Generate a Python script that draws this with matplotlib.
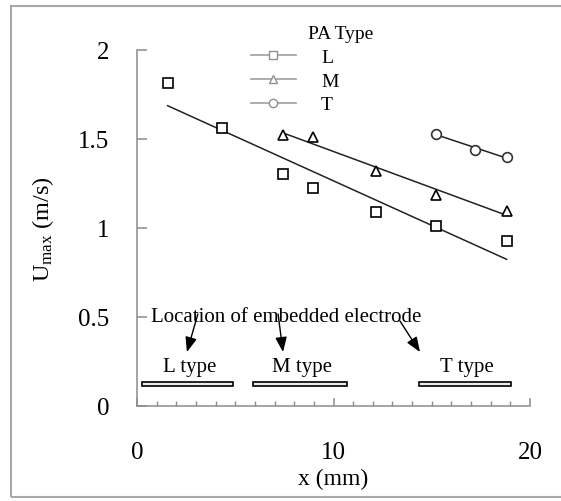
import numpy as np
import matplotlib.pyplot as plt
from matplotlib.lines import Line2D
from matplotlib.patches import Rectangle

plt.rcParams['font.family'] = ['Liberation Serif', 'DejaVu Serif']
plt.rcParams['mathtext.fontset'] = 'custom'
plt.rcParams['mathtext.rm'] = 'Liberation Serif'
plt.rcParams['mathtext.it'] = 'Liberation Serif'

# measured maximum velocity per PA type
x_L = [1.56, 4.31, 7.43, 8.97, 12.15, 15.24, 18.81]
u_L = [1.815, 1.560, 1.303, 1.225, 1.088, 1.010, 0.929]
x_M = [7.43, 8.97, 12.15, 15.24, 18.81]
u_M = [1.522, 1.513, 1.319, 1.185, 1.097]
x_T = [15.24, 17.19, 18.81]
u_T = [1.530, 1.438, 1.400]

# electrode spans along x (mm)
electrode_names = ['L type', 'M type', 'T type']
electrode_start = [0.25, 5.9, 14.35]
electrode_end = [4.9, 10.7, 19.05]

grey = '#8c8c8c'

fig = plt.figure(figsize=(5.61, 5.02), dpi=100)
ax = fig.add_axes([137 / 561, 1 - 407 / 502, 393 / 561, 356 / 502])

series = [(x_L, u_L, 's', 'k'), (x_M, u_M, '^', 'k'), (x_T, u_T, 'o', '#333333')]
for xs, us, mk, col in series:
    ax.plot(xs, us, linestyle='none', marker=mk, ms=7, mfc='white',
            mec=col, mew=1.2, zorder=3)
    k, b = np.polyfit(xs, us, 1)
    xx = np.array([min(xs), max(xs)])
    ax.plot(xx, k * xx + b, color='#222222', lw=1.1, zorder=2)

# electrode bars with labels
for name, s, e in zip(electrode_names, electrode_start, electrode_end):
    ax.add_patch(Rectangle((s, 0.110), e - s, 0.027, facecolor='#ececec',
                           edgecolor='k', lw=1.2, zorder=2))
    ax.text((s + e) / 2 + 0.1, 0.22, name, ha='center', va='center', fontsize=15)

ax.text(0.7, 0.505, 'Location of embedded electrode', ha='left', va='center',
        fontsize=15)
arrow_kw = dict(arrowstyle='-|>,head_length=0.9,head_width=0.35', color='k',
                lw=1.0, shrinkA=0, shrinkB=0)
ax.annotate('', xy=(2.54, 0.303), xytext=(3.1, 0.517), arrowprops=arrow_kw)
ax.annotate('', xy=(7.43, 0.303), xytext=(7.18, 0.517), arrowprops=arrow_kw)
ax.annotate('', xy=(14.4, 0.303), xytext=(13.38, 0.478), arrowprops=arrow_kw)

ax.set_xlim(0, 20)
ax.set_ylim(0, 2)
ax.set_xticks([0, 10, 20])
ax.set_xticks(np.arange(0, 21, 1), minor=True)
ax.set_yticks([0, 0.5, 1, 1.5, 2])
ax.set_yticklabels(['0', '0.5', '1', '1.5', '2'])

for side in ['top', 'right']:
    ax.spines[side].set_visible(False)
for side in ['left', 'bottom']:
    ax.spines[side].set_color(grey)
    ax.spines[side].set_linewidth(1.1)

ax.tick_params(axis='y', direction='in', length=7, width=1.1, color=grey,
               pad=20, labelsize=18)
ax.tick_params(axis='x', which='major', direction='in', length=6, width=1.1,
               color=grey, pad=25, labelsize=18)
ax.tick_params(axis='x', which='minor', direction='in', length=3.5, width=1.0,
               color=grey)

ax.set_xlabel('x (mm)', fontsize=17, labelpad=4)
ax.set_ylabel(r'U$_{\mathrm{max}}$ (m/s)', fontsize=17.5, labelpad=16)

handles = [Line2D([], [], color='#a0a0a0', lw=1.2, marker=m, ms=6, mfc='white',
                  mec='#909090', mew=1.0) for m in ['s', '^', 'o']]
ax.legend(handles, ['L', 'M', 'T'], loc='upper left',
          bbox_to_anchor=(0.29, 1.005), frameon=False, fontsize=14,
          handlelength=2.3, handletextpad=1.3, labelspacing=0.32,
          borderpad=0, borderaxespad=0)
fig.text(341 / 561, 1 - 35 / 502, 'PA Type', fontsize=14, ha='center',
         va='center')

# outer frame
fig.patches.append(Rectangle((11 / 561, 4 / 502), 1.0, 491 / 502,
                             transform=fig.transFigure, fill=False,
                             edgecolor='#a8a8a8', lw=1.5))

fig.savefig('out.png', dpi=100)
